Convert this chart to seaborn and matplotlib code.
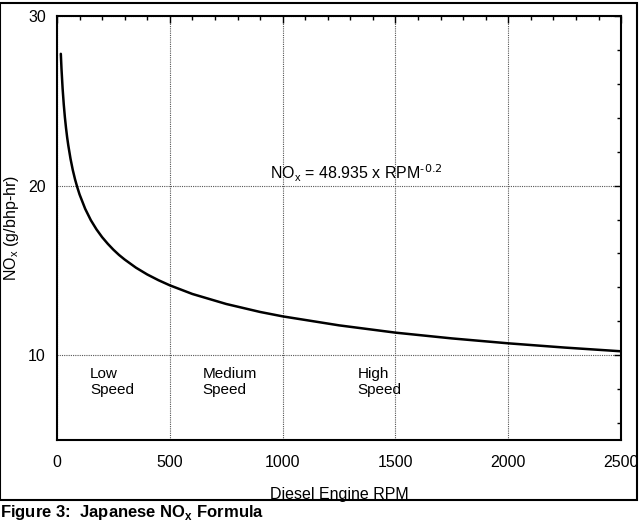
import matplotlib
matplotlib.use("Agg")
import matplotlib.pyplot as plt
import seaborn as sns
import pandas as pd
from matplotlib.patches import Rectangle
from matplotlib.ticker import MultipleLocator

rpm = [17, 20, 25, 30, 35, 40, 45, 50, 60, 70, 80, 90, 100, 125, 150, 175, 200,
       225, 250, 275, 300, 350, 400, 450, 500, 600, 750, 900, 1000, 1250, 1500,
       1750, 2000, 2250, 2500]
nox = [27.77, 26.88, 25.71, 24.79, 24.03, 23.40, 22.85, 22.38, 21.58, 20.92,
       20.37, 19.90, 19.48, 18.63, 17.96, 17.42, 16.96, 16.57, 16.22, 15.91,
       15.64, 15.16, 14.76, 14.42, 14.12, 13.61, 13.02, 12.55, 12.29, 11.76,
       11.33, 10.99, 10.70, 10.45, 10.23]
x_ticks = [0, 500, 1000, 1500, 2000, 2500]
y_ticks = [10, 20, 30]
speed_labels = ["Low\nSpeed", "Medium\nSpeed", "High\nSpeed"]
speed_x = [146, 646, 1332]

sns.set_theme(style="white")
plt.rcParams['font.family'] = ['Liberation Sans', 'DejaVu Sans']
plt.rcParams['axes.unicode_minus'] = False

fig = plt.figure(figsize=(6.41, 5.23), dpi=100)
ax = fig.add_axes([0.0889, 0.1587, 0.8801, 0.8107])

df = pd.DataFrame({"rpm": rpm, "nox": nox})
sns.lineplot(data=df, x="rpm", y="nox", ax=ax, color="black", linewidth=1.8)

ax.set_xlim(0, 2500)
ax.set_ylim(5, 30)
ax.set_xticks(x_ticks)
ax.set_yticks(y_ticks)
ax.xaxis.set_minor_locator(MultipleLocator(100))
ax.yaxis.set_minor_locator(MultipleLocator(2))
ax.tick_params(which="both", direction="in", top=True, right=True,
               colors="black", labelsize=11.5)
ax.tick_params(axis="x", pad=11)
ax.tick_params(axis="y", pad=8)
ax.tick_params(which="major", length=5, width=1)
ax.tick_params(which="minor", length=3, width=1)
for s in ax.spines.values():
    s.set_color("black")
    s.set_linewidth(1.5)

ax.grid(True, which="major", linestyle=(0, (1, 1)), color="#555555", linewidth=0.8)

ax.set_xlabel("Diesel Engine RPM", fontsize=11.5, labelpad=12, color="black")
ax.set_ylabel("NO$_\\mathregular{x}$ (g/bhp-hr)", fontsize=11.5, labelpad=5, color="black")

ax.text(943, 20.4, "NO$_\\mathregular{x}$ = 48.935 x RPM$^\\mathregular{\\text{-0.2}}$",
        fontsize=11.5, color="black")
for lab, xv in zip(speed_labels, speed_x):
    ax.text(xv, 9.3, lab, fontsize=11, color="black", va="top", linespacing=1.2)

fig.patches.append(Rectangle((0.0, 0.044), 0.994, 0.95, transform=fig.transFigure,
                             fill=False, edgecolor="black", linewidth=1.5))
fig.text(0.0, 0.012, "Figure 3:  Japanese NO$_\\mathregular{x}$ Formula",
         fontsize=12, fontweight="bold", color="black")

fig.savefig("out.png", dpi=100)
